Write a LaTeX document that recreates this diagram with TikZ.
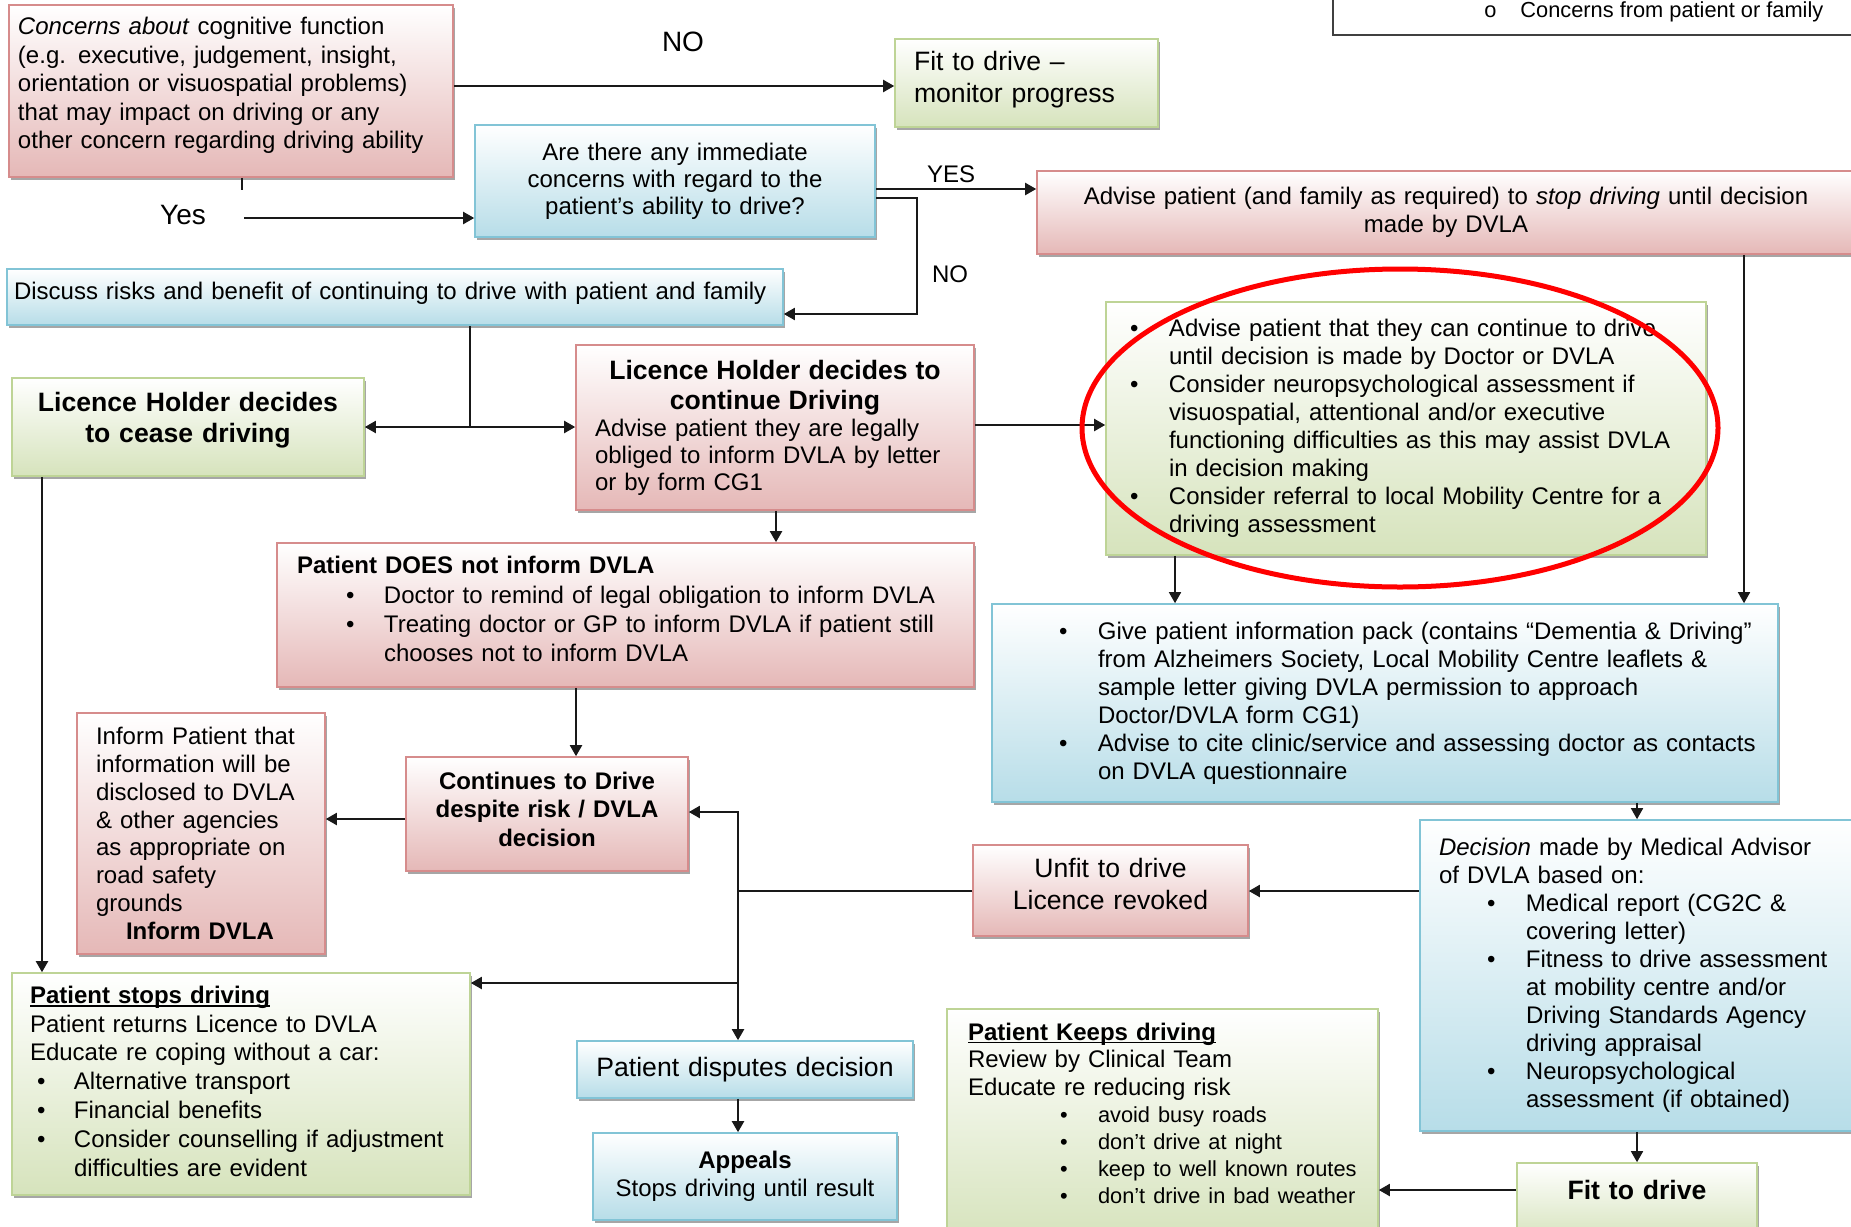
\documentclass[tikz,border=0pt]{standalone}
\usepackage{fontspec}
\setmainfont{Liberation Sans}
\usetikzlibrary{arrows.meta,shadows}
\definecolor{pinkB}{RGB}{229,184,183}
\definecolor{pinkD}{RGB}{214,140,140}
\definecolor{greenB}{RGB}{214,227,188}
\definecolor{greenD}{RGB}{190,212,150}
\definecolor{blueB}{RGB}{183,221,232}
\definecolor{blueD}{RGB}{130,196,214}
\definecolor{lineC}{RGB}{25,25,25}
\newcommand\BL[2]{\hspace*{#1}\makebox[#2][l]{\textbullet}}
\newcommand\IN[1]{\hspace*{#1}}
\newcommand\myul[1]{\setbox0\hbox{#1}\rlap{\rule[-1.6pt]{\wd0}{0.7pt}}\box0}
\newcommand\dn[1]{\rule[-#1]{0pt}{0pt}}
\tikzset{
 corners/.style n args={4}{at={({(#1+#3)/2},{(#2+#4)/2})},
   minimum width={(#3-#1)*0.5pt}, minimum height={(#4-#2)*0.5pt}},
 box/.style={rectangle, inner sep=0pt, line width=0.8pt,
   drop shadow={shadow xshift=1.2pt, shadow yshift=-1.6pt, opacity=0.35, fill=black}},
 pinkbox/.style={box, draw=pinkD, top color=white, bottom color=pinkB},
 greenbox/.style={box, draw=greenD, top color=white, bottom color=greenB},
 bluebox/.style={box, draw=blueD, top color=white, bottom color=blueB},
 body/.style={font=\fontsize{12}{14.2}\selectfont},
 big/.style={font=\fontsize{13.3}{16}\selectfont},
 arr/.style={draw=lineC, line width=1pt, -{Triangle[length=5.5pt,width=6pt]}},
 thinarr/.style={draw=lineC, line width=0.8pt, -{Triangle[length=5.5pt,width=6pt]}},
 ln/.style={draw=lineC, line width=1pt},
 lbl/.style={inner sep=0pt},
}
\begin{document}
\begin{tikzpicture}[x=0.5pt,y=-0.5pt]
\useasboundingbox (0,0) rectangle (1851,1226);

% legend fragment
\draw[line width=1pt, draw=black!75] (1333,-5) -- (1333,35) -- (1860,35);
\node[lbl, font=\fontsize{10.9}{13}\selectfont, anchor=west] (legtext) at (1484,12) {\makebox[18pt][l]{o}Concerns from patient or family};

% boxes
\node[pinkbox, body, corners={9}{5}{453}{177}, text width=213pt, align=left] (concerns)
 {\textit{Concerns about} cognitive function\\(e.g. executive, judgement, insight,\\orientation or visuospatial problems)\\that may impact on driving or any\\other concern regarding driving ability\dn{8pt}};

\node[greenbox, big, corners={895}{39}{1158}{127}, text width=112.5pt, align=left] (fit1)
 {Fit to drive --\\monitor progress\dn{6.3pt}};

\node[bluebox, corners={475}{125}{875}{237}, text width=190pt, align=center,
  font=\fontsize{12}{13.6}\selectfont] (immediate)
 {Are there any immediate\\concerns with regard to the\\patient’s ability to drive?};

\node[pinkbox, body, corners={1037}{171}{1855}{254}, text width=389pt, align=center] (advise)
 {Advise patient (and family as required) to \textit{stop driving} until decision\\made by DVLA};

\node[bluebox, body, corners={7}{269}{783}{325}, text width=381pt, align=left] (discuss)
 {Discuss risks and benefit of continuing to drive with patient and family\dn{6pt}};

\node[greenbox, corners={12}{378}{364}{476}, text width=166pt, align=center,
  font=\fontsize{13.3}{15.8}\selectfont\bfseries] (cease)
 {Licence Holder decides\\to cease driving\dn{9.8pt}};

\node[pinkbox, corners={576}{345}{974}{510}, text width=180pt, align=left,
  font=\fontsize{12}{13.5}\selectfont] (continue)
 {{\centering\bfseries\fontsize{13.3}{15}\selectfont Licence Holder decides to\\continue Driving\par}
  Advise patient they are legally\\obliged to inform DVLA by letter\\or by form CG1};

\node[pinkbox, corners={277}{543}{974}{687}, text width=328.5pt, align=left,
  font=\fontsize{12}{14.6}\selectfont] (does)
 {\textbf{Patient DOES not inform DVLA}\\
  \BL{24.5pt}{19pt}Doctor to remind of legal obligation to inform DVLA\\
  \BL{24.5pt}{19pt}Treating doctor or GP to inform DVLA if patient still\\
  \IN{43.5pt}chooses not to inform DVLA\dn{6pt}};

\node[greenbox, corners={1106}{302}{1706}{555}, text width=276pt, align=left,
  font=\fontsize{12}{14}\selectfont] (greenbul)
 {\BL{0pt}{19.5pt}Advise patient that they can continue to drive\\
  \IN{19.5pt}until decision is made by Doctor or DVLA\\
  \BL{0pt}{19.5pt}Consider neuropsychological assessment if\\
  \IN{19.5pt}visuospatial, attentional and/or executive\\
  \IN{19.5pt}functioning difficulties as this may assist DVLA\\
  \IN{19.5pt}in decision making\\
  \BL{0pt}{19.5pt}Consider referral to local Mobility Centre for a\\
  \IN{19.5pt}driving assessment};

\node[bluebox, corners={992}{604}{1778}{802}, text width=373pt, align=left,
  font=\fontsize{12}{14}\selectfont] (info)
 {\BL{23.5pt}{19.5pt}Give patient information pack (contains “Dementia \& Driving”\\
  \IN{43pt}from Alzheimers Society, Local Mobility Centre leaflets \&\\
  \IN{43pt}sample letter giving DVLA permission to approach\\
  \IN{43pt}Doctor/DVLA form CG1)\\
  \BL{23.5pt}{19.5pt}Advise to cite clinic/service and assessing doctor as contacts\\
  \IN{43pt}on DVLA questionnaire};

\node[bluebox, corners={1420}{820}{1860}{1131}, text width=201pt, align=left,
  font=\fontsize{12}{14}\selectfont] (decision)
 {\textit{Decision} made by Medical Advisor\\
  of DVLA based on:\\
  \BL{24pt}{19.5pt}Medical report (CG2C \&\\
  \IN{43.5pt}covering letter)\\
  \BL{24pt}{19.5pt}Fitness to drive assessment\\
  \IN{43.5pt}at mobility centre and/or\\
  \IN{43.5pt}Driving Standards Agency\\
  \IN{43.5pt}driving appraisal\\
  \BL{24pt}{19.5pt}Neuropsychological\\
  \IN{43.5pt}assessment (if obtained)};

\node[pinkbox, big, corners={973}{845}{1248}{936}, text width=127pt, align=center] (unfit)
 {Unfit to drive\\Licence revoked\dn{7pt}};

\node[pinkbox, corners={406}{757}{688}{871}, text width=131pt, align=center,
  font=\fontsize{12}{14.25}\selectfont\bfseries] (continues)
 {Continues to Drive\\despite risk / DVLA\\decision\dn{4.8pt}};

\node[pinkbox, corners={77}{713}{325}{954}, text width=105pt, align=left,
  font=\fontsize{12}{13.9}\selectfont] (inform)
 {Inform Patient that\\information will be\\disclosed to DVLA\\\& other agencies\\as appropriate on\\road safety\\grounds\\\IN{15pt}\textbf{Inform DVLA}};

\node[greenbox, corners={12}{973}{470}{1195}, text width=211pt, align=left,
  font=\fontsize{12}{14.4}\selectfont] (stops)
 {\textbf{\myul{Patient stops driving}}\\
  Patient returns Licence to DVLA\\
  Educate re coping without a car:\\
  \BL{3.5pt}{18.5pt}Alternative transport\\
  \BL{3.5pt}{18.5pt}Financial benefits\\
  \BL{3.5pt}{18.5pt}Consider counselling if adjustment\\
  \IN{22pt}difficulties are evident\dn{3pt}};

\node[bluebox, big, corners={577}{1041}{913}{1098}, text width=160pt, align=center] (disputes)
 {Patient disputes decision};

\node[bluebox, corners={593}{1133}{897}{1220}, text width=142pt, align=center,
  font=\fontsize{12}{13.8}\selectfont] (appeals)
 {\textbf{Appeals}\\Stops driving until result};

\node[greenbox, corners={947}{1009}{1378}{1241}, text width=194.5pt, align=left,
  font=\fontsize{12}{13.8}\selectfont] (keeps)
 {{\textbf{\myul{Patient Keeps driving}}\\
  Review by Clinical Team\\
  Educate re reducing risk\par}
  {\fontsize{10.9}{13.5}\selectfont
  \BL{46pt}{19pt}avoid busy roads\\
  \BL{46pt}{19pt}don’t drive at night\\
  \BL{46pt}{19pt}keep to well known routes\\
  \BL{46pt}{19pt}don’t drive in bad weather\dn{12pt}\par}};

\node[greenbox, corners={1517}{1163}{1757}{1241}, text width=110pt, align=center,
  font=\fontsize{13.3}{16}\selectfont\bfseries] (fit2)
 {Fit to drive\dn{12pt}};

% labels
\node[lbl, font=\fontsize{14}{16}\selectfont] (noA) at (683,42) {NO};
\node[lbl, font=\fontsize{14}{16}\selectfont] (yesA) at (183,215) {Yes};
\node[lbl, font=\fontsize{12}{14}\selectfont] (yesB) at (951,174) {YES};
\node[lbl, font=\fontsize{12}{14}\selectfont] (noB) at (950,274) {NO};

% connectors
\draw[arr] (concerns.east |- 0,86) -- (fit1.west |- 0,86);
\draw[ln] (concerns.south -| 242,0) -- ++(0,12);
\coordinate (yesst) at (244,218);
\draw[arr] (yesst) -- (immediate.west |- yesst);
\draw[arr] (immediate.east |- 0,189) -- (advise.west |- 0,189);
\draw[arr] (immediate.east |- 0,198) -- ++(41,0) |- (discuss.east |- 0,314);
\coordinate (split) at (470,427);
\draw[ln] (discuss.south -| split) -- (split);
\draw[arr] (split) -- (cease.east |- split);
\draw[arr] (split) -- (continue.west |- split);
\draw[arr] (continue.east |- 0,425) -- (greenbul.west |- 0,425);
\draw[arr] (continue.south -| 776,0) -- (does.north -| 776,0);
\draw[arr] (does.south -| 576,0) -- (continues.north -| 576,0);
\draw[arr] (continues.west |- 0,819) -- (inform.east |- 0,819);
\draw[thinarr] (greenbul.south -| 1175,0) -- (info.north -| 1175,0);
\draw[thinarr] (advise.south -| 1744,0) -- (info.north -| 1744,0);
\draw[thinarr] (info.south -| 1637,0) -- (decision.north -| 1637,0);
\draw[arr] (decision.west |- 0,891) -- (unfit.east |- 0,891);
\coordinate (jx) at (738,891);
\draw[ln] (unfit.west |- jx) -- (jx);
\draw[arr] (jx) |- (continues.east |- 0,812);
\draw[arr] (jx) -- (jx |- disputes.north);
\draw[arr] (jx |- 0,983) -- (stops.east |- 0,983);
\draw[arr] (disputes.south -| jx) -- (appeals.north -| jx);
\draw[thinarr] (decision.south -| 1637,0) -- (fit2.north -| 1637,0);
\draw[arr] (fit2.west |- 0,1190) -- (keeps.east |- 0,1190);
\draw[arr] (cease.south -| 42,0) -- (stops.north -| 42,0);

% red ellipse
\draw[red, line width=2.5pt] (1400,428) ellipse [x radius=159pt, y radius=79.5pt];
\end{tikzpicture}
\end{document}
